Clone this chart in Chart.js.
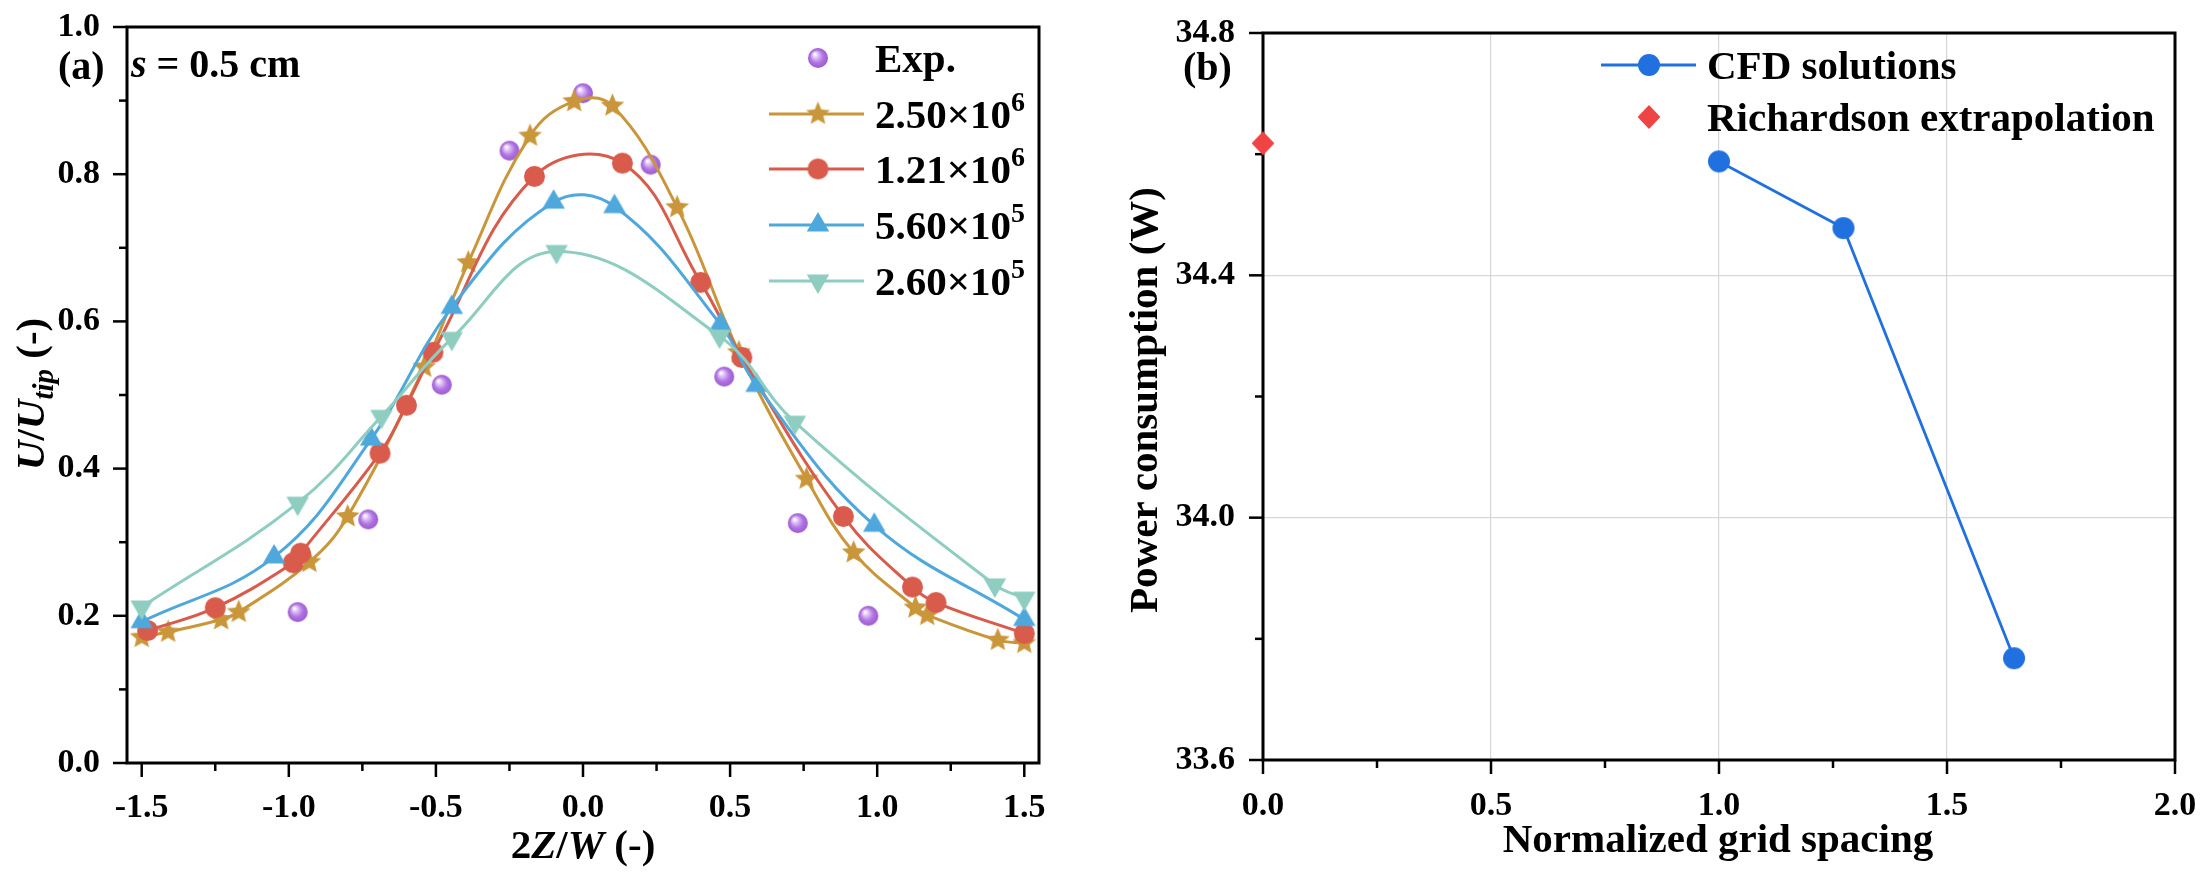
<!DOCTYPE html>
<html>
<head>
<meta charset="utf-8">
<title>Grid independence</title>
<script src="https://cdn.jsdelivr.net/npm/chart.js@4.4.0/dist/chart.umd.min.js"></script>
<style>
  html, body { margin: 0; padding: 0; background: #fff; }
  #wrap { position: relative; width: 2210px; height: 882px; }
  #boxA { position: absolute; left: 0; top: 0; width: 1110px; height: 882px; }
  #boxB { position: absolute; left: 1110px; top: 0; width: 1100px; height: 882px; }
</style>
</head>
<body>
<div id="wrap">
  <div id="boxA"><canvas id="chartA"></canvas></div>
  <div id="boxB"><canvas id="chartB"></canvas></div>
</div>
<script>
// ---- panel (a): velocity profiles, s = 0.5 cm ----
var expX = [-0.97, -0.73, -0.48, -0.25, 0.00, 0.23, 0.48, 0.73, 0.97];
var expY = [0.205, 0.331, 0.514, 0.832, 0.910, 0.813, 0.525, 0.326, 0.200];

var g250X = [-1.50, -1.41, -1.23, -1.17, -0.93, -0.80, -0.54, -0.39, -0.18, -0.03, 0.10, 0.32, 0.53, 0.76, 0.92, 1.13, 1.17, 1.41, 1.50];
var g250Y = [0.171, 0.178, 0.195, 0.205, 0.273, 0.335, 0.538, 0.680, 0.852, 0.899, 0.893, 0.755, 0.558, 0.386, 0.286, 0.211, 0.201, 0.167, 0.163];

var g121X = [-1.48, -1.25, -0.985, -0.96, -0.69, -0.60, -0.51, -0.165, 0.134, 0.40, 0.54, 0.885, 1.12, 1.20, 1.50];
var g121Y = [0.180, 0.211, 0.272, 0.285, 0.421, 0.486, 0.558, 0.797, 0.815, 0.653, 0.551, 0.335, 0.239, 0.218, 0.176];

var g056X = [-1.50, -1.05, -0.72, -0.446, -0.10, 0.107, 0.467, 0.59, 0.99, 1.50];
var g056Y = [0.192, 0.280, 0.440, 0.619, 0.762, 0.756, 0.596, 0.513, 0.323, 0.195];

var g026X = [-1.50, -0.97, -0.685, -0.446, -0.09, 0.464, 0.72, 1.40, 1.50];
var g026Y = [0.212, 0.353, 0.471, 0.577, 0.695, 0.580, 0.463, 0.242, 0.224];

var xMajorA = [-1.5, -1.0, -0.5, 0, 0.5, 1.0, 1.5];
var xMinorA = [-1.25, -0.75, -0.25, 0.25, 0.75, 1.25];
var yMajorA = [0, 0.2, 0.4, 0.6, 0.8, 1.0];
var yMinorA = [0.1, 0.3, 0.5, 0.7, 0.9];

// ---- panel (b): power consumption vs grid spacing ----
var cfdX = [1.00, 1.273, 1.647];
var cfdY = [34.588, 34.478, 33.768];
var richX = [0.0];
var richY = [34.618];

var xMajorB = [0, 0.5, 1.0, 1.5, 2.0];
var xMinorB = [0.25, 0.75, 1.25, 1.75];
var yMajorB = [33.6, 34.0, 34.4, 34.8];
var yMinorB = [33.8, 34.2, 34.6];

var FAM = "'Liberation Serif', 'Times New Roman', serif";
var colStar = '#C9963A', colRed = '#D95B4B', colBlue = '#4FA8DC', colTeal = '#8ECDC0';
var colCfd = '#2170E0', colRich = '#F04444';

function font(size, italic) { return (italic ? 'italic ' : '') + 'bold ' + size + 'px ' + FAM; }

function pts(xs, ys) { return xs.map(function (x, i) { return { x: x, y: ys[i] }; }); }

function drawMarker(g, kind, color, x, y, r) {
  g.save();
  g.fillStyle = color;
  g.beginPath();
  if (kind == 'sphere') {
    var grd = g.createRadialGradient(x - r * 0.35, y - r * 0.4, r * 0.05, x, y, r);
    grd.addColorStop(0, '#ffffff');
    grd.addColorStop(0.28, '#dcbcf5');
    grd.addColorStop(0.62, '#b275e2');
    grd.addColorStop(1, '#9a5ad2');
    g.fillStyle = grd;
    g.arc(x, y, r, 0, Math.PI * 2);
  } else if (kind == 'circle') {
    g.arc(x, y, r, 0, Math.PI * 2);
  } else if (kind == 'star') {
    for (var i = 0; i < 10; i++) {
      var rr = i % 2 ? r * 0.45 : r;
      var a = -Math.PI / 2 + i * Math.PI / 5;
      var px = x + rr * Math.cos(a), py = y + rr * Math.sin(a);
      if (i == 0) g.moveTo(px, py); else g.lineTo(px, py);
    }
    g.closePath();
  } else if (kind == 'tri') {
    g.moveTo(x, y - r); g.lineTo(x + r * 0.866, y + r * 0.5); g.lineTo(x - r * 0.866, y + r * 0.5); g.closePath();
  } else if (kind == 'tridown') {
    g.moveTo(x, y + r); g.lineTo(x + r * 0.866, y - r * 0.5); g.lineTo(x - r * 0.866, y - r * 0.5); g.closePath();
  } else if (kind == 'diamond') {
    g.moveTo(x, y - r); g.lineTo(x + r * 0.95, y); g.lineTo(x, y + r); g.lineTo(x - r * 0.95, y); g.closePath();
  }
  g.fill();
  g.restore();
}

function makeMarker(kind, color, r) {
  var c = document.createElement('canvas');
  var s = Math.ceil(r * 2 + 4);
  c.width = s; c.height = s;
  drawMarker(c.getContext('2d'), kind, color, s / 2, s / 2, r);
  return c;
}

var mkExp = makeMarker('sphere', '#b070e0', 10);
var mkStar = makeMarker('star', colStar, 12.5);
var mkRed = makeMarker('circle', colRed, 10.5);
var mkBlue = makeMarker('tri', colBlue, 13);
var mkTeal = makeMarker('tridown', colTeal, 13);
var mkCfd = makeMarker('circle', colCfd, 11);
var mkRich = makeMarker('diamond', colRich, 12);

function richText(ctx, parts, x, y, align) {
  var w = 0;
  parts.forEach(function (p) { ctx.font = font(p.size, p.it); p.w = ctx.measureText(p.t).width; w += p.w; });
  var cx = align == 'center' ? x - w / 2 : x;
  ctx.textAlign = 'left';
  ctx.textBaseline = 'alphabetic';
  ctx.fillStyle = '#000';
  parts.forEach(function (p) { ctx.font = font(p.size, p.it); ctx.fillText(p.t, cx, y + (p.dy || 0)); cx += p.w; });
}

// axis box and tick marks, drawn from the chart's scales
var framePlugin = {
  id: 'frame',
  beforeDatasetsDraw: function (chart) {
    var ctx = chart.ctx, a = chart.chartArea, xs = chart.scales.x, ys = chart.scales.y;
    ctx.save();
    ctx.strokeStyle = '#000';
    ctx.lineWidth = 2.5;
    xs.ticks.forEach(function (t) {
      var px = xs.getPixelForValue(t.value);
      ctx.beginPath(); ctx.moveTo(px, a.bottom); ctx.lineTo(px, a.bottom + (t.label ? 14 : 8)); ctx.stroke();
    });
    ys.ticks.forEach(function (t) {
      var py = ys.getPixelForValue(t.value);
      ctx.beginPath(); ctx.moveTo(a.left, py); ctx.lineTo(a.left - (t.label ? 14 : 8), py); ctx.stroke();
    });
    ctx.lineWidth = 3;
    ctx.strokeRect(a.left, a.top, a.right - a.left, a.bottom - a.top);
    ctx.restore();
  }
};

var textsA = {
  id: 'textsA',
  afterDraw: function (chart) {
    var ctx = chart.ctx;
    ctx.save();
    richText(ctx, [{ t: '(a)', size: 40 }], 58, 79, 'left');
    richText(ctx, [{ t: 's', size: 40, it: 1 }, { t: ' = 0.5 cm', size: 40 }], 131, 77, 'left');
    richText(ctx, [{ t: '2', size: 41 }, { t: 'Z', size: 41, it: 1 }, { t: '/', size: 41 }, { t: 'W', size: 41, it: 1 }, { t: ' (-)', size: 41 }], 583, 858, 'center');
    ctx.save();
    ctx.translate(31, 394);
    ctx.rotate(-Math.PI / 2);
    richText(ctx, [{ t: 'U', size: 41, it: 1 }, { t: '/', size: 41 }, { t: 'U', size: 41, it: 1 }, { t: 'tip', size: 29, it: 1, dy: 9 }, { t: ' (-)', size: 41 }], 0, 13, 'center');
    ctx.restore();

    // legend
    var rows = [
      { mk: mkExp, line: null, t: 'Exp.', e: '' },
      { mk: mkStar, line: colStar, t: '2.50\u00d710', e: '6' },
      { mk: mkRed, line: colRed, t: '1.21\u00d710', e: '6' },
      { mk: mkBlue, line: colBlue, t: '5.60\u00d710', e: '5' },
      { mk: mkTeal, line: colTeal, t: '2.60\u00d710', e: '5' }
    ];
    var rowY = [58, 114, 169, 225, 281];
    rows.forEach(function (r, i) {
      var y = rowY[i];
      if (r.line) {
        ctx.strokeStyle = r.line; ctx.lineWidth = 3;
        ctx.beginPath(); ctx.moveTo(769, y); ctx.lineTo(864, y); ctx.stroke();
      }
      ctx.drawImage(r.mk, 818 - r.mk.width / 2, y - r.mk.height / 2);
      var parts = [{ t: r.t, size: 41 }];
      if (r.e) parts.push({ t: r.e, size: 28, dy: -17 });
      richText(ctx, parts, 875, y + 14, 'left');
    });
    ctx.restore();
  }
};

var textsB = {
  id: 'textsB',
  afterDraw: function (chart) {
    var ctx = chart.ctx;
    ctx.save();
    richText(ctx, [{ t: '(b)', size: 40 }], 73, 80, 'left');
    richText(ctx, [{ t: 'Normalized grid spacing', size: 41 }], 608, 852, 'center');
    ctx.save();
    ctx.translate(34, 400);
    ctx.rotate(-Math.PI / 2);
    richText(ctx, [{ t: 'Power consumption (W)', size: 41 }], 0, 13, 'center');
    ctx.restore();

    ctx.strokeStyle = colCfd; ctx.lineWidth = 3;
    ctx.beginPath(); ctx.moveTo(491, 65); ctx.lineTo(586, 65); ctx.stroke();
    ctx.drawImage(mkCfd, 539 - mkCfd.width / 2, 65 - mkCfd.height / 2);
    richText(ctx, [{ t: 'CFD solutions', size: 41 }], 597, 79, 'left');
    ctx.drawImage(mkRich, 539 - mkRich.width / 2, 117 - mkRich.height / 2);
    richText(ctx, [{ t: 'Richardson extrapolation', size: 41 }], 597, 131, 'left');
    ctx.restore();
  }
};

function tickList(major, minor) {
  return major.concat(minor).sort(function (a, b) { return a - b; }).map(function (v) { return { value: v }; });
}

function axis(min, max, major, minor, fitSize, isX, padding, gridOpt) {
  return {
    type: 'linear',
    min: min,
    max: max,
    afterBuildTicks: function (s) { s.ticks = tickList(major, minor); },
    afterFit: function (s) {
      if (isX) s.height = fitSize; else s.width = fitSize;
      // the plot box is placed by layout padding only
      s.paddingTop = 0; s.paddingBottom = 0; s.paddingLeft = 0; s.paddingRight = 0;
    },
    ticks: {
      autoSkip: false,
      maxRotation: 0,
      padding: padding,
      color: '#000',
      font: { family: FAM, size: 34, weight: 'bold' },
      callback: function (v) { return major.indexOf(v) >= 0 ? v.toFixed(1) : ''; }
    },
    grid: gridOpt || { display: false, drawTicks: false },
    border: { display: false }
  };
}

function lineSet(label, xs, ys, color, mk, order) {
  return {
    label: label,
    data: pts(xs, ys),
    showLine: true,
    borderColor: color,
    borderWidth: 3,
    tension: 0.4,
    pointStyle: mk,
    pointRadius: 10,
    order: order,
    clip: false
  };
}

Chart.defaults.animation = false;

new Chart(document.getElementById('chartA'), {
  type: 'scatter',
  data: {
    datasets: [
      { label: 'Exp.', data: pts(expX, expY), showLine: false, pointStyle: mkExp, pointRadius: 10, order: 5, clip: false },
      lineSet('2.50\u00d710^6', g250X, g250Y, colStar, mkStar, 4),
      lineSet('1.21\u00d710^6', g121X, g121Y, colRed, mkRed, 3),
      lineSet('5.60\u00d710^5', g056X, g056Y, colBlue, mkBlue, 2),
      lineSet('2.60\u00d710^5', g026X, g026Y, colTeal, mkTeal, 1)
    ]
  },
  options: {
    responsive: true,
    maintainAspectRatio: false,
    events: [],
    layout: { padding: { left: 0, top: 27, right: 71, bottom: 0 } },
    plugins: { legend: { display: false }, tooltip: { enabled: false } },
    scales: {
      x: axis(-1.55, 1.55, xMajorA, xMinorA, 119, true, 25),
      y: axis(0, 1.0, yMajorA, yMinorA, 127, false, 27)
    }
  },
  plugins: [framePlugin, textsA]
});

var gridB = function (major) {
  return {
    display: true,
    drawTicks: false,
    lineWidth: 1.2,
    color: function (c) {
      var v = c.tick ? c.tick.value : null;
      var inner = major.indexOf(v) > 0 && major.indexOf(v) < major.length - 1;
      return inner ? '#d6d6d6' : 'rgba(0,0,0,0)';
    }
  };
};

new Chart(document.getElementById('chartB'), {
  type: 'scatter',
  data: {
    datasets: [
      { label: 'CFD solutions', data: pts(cfdX, cfdY), showLine: true, borderColor: colCfd, borderWidth: 2.8, tension: 0, pointStyle: mkCfd, pointRadius: 10, order: 2, clip: false },
      { label: 'Richardson extrapolation', data: pts(richX, richY), showLine: false, pointStyle: mkRich, pointRadius: 12, order: 1, clip: false }
    ]
  },
  options: {
    responsive: true,
    maintainAspectRatio: false,
    events: [],
    layout: { padding: { left: 0, top: 33, right: 35, bottom: 0 } },
    plugins: { legend: { display: false }, tooltip: { enabled: false } },
    scales: {
      x: axis(0, 2.0, xMajorB, xMinorB, 122, true, 26, gridB(xMajorB)),
      y: axis(33.6, 34.8, yMajorB, yMinorB, 153, false, 28, gridB(yMajorB))
    }
  },
  plugins: [framePlugin, textsB]
});
</script>
</body>
</html>
